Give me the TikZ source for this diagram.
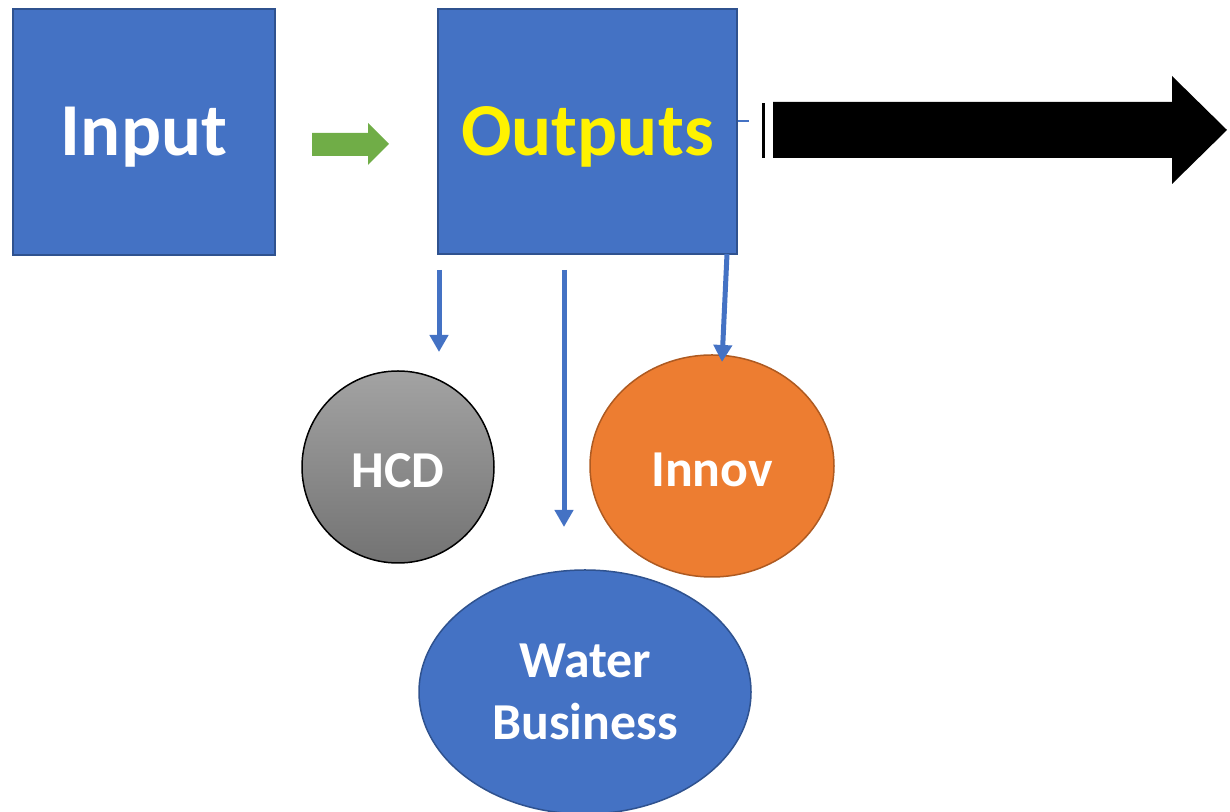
\documentclass[tikz,border=0pt]{standalone}
\usepackage{fontspec}
\setmainfont{Carlito}
\usetikzlibrary{arrows.meta}
\definecolor{boxblue}{HTML}{4472C4}
\definecolor{boxline}{HTML}{2F528F}
\definecolor{innovfill}{HTML}{ED7D31}
\definecolor{innovline}{HTML}{AE5A21}
\definecolor{arrowgreen}{HTML}{70AD47}
\definecolor{hcdtop}{HTML}{A3A3A3}
\definecolor{hcdbot}{HTML}{737373}
\tikzset{
  block/.style={draw=boxline,line width=1.5bp,fill=boxblue,inner sep=0pt,
    text height=52bp,text depth=4bp,
    font=\bfseries\fontsize{75}{90}\selectfont},
  blob/.style={ellipse,line width=1.5bp,inner sep=0pt,text=white,align=center,
    font=\bfseries\fontsize{52}{62}\selectfont},
  oneline/.style={text height=41bp,text depth=0pt},
  link/.style={draw=boxblue,line width=5bp,-{Triangle[width=18bp,length=17bp]}}
}
\usetikzlibrary{shapes.geometric}
\begin{document}
\begin{tikzpicture}[x=1bp,y=1bp]
\useasboundingbox(0,0) rectangle (1230,812);
% boxes
\node[block,text=white,minimum width=262bp,minimum height=246bp] (input) at (144,680) {Input};
\node[block,text=yellow,minimum width=299bp,minimum height=245bp] (outputs) at (587.5,680.5) {Outputs};
% circles
\node[blob,oneline,draw=black,top color=hcdtop,bottom color=hcdbot,minimum width=192bp,minimum height=192bp] (hcd) at (398,345) {HCD};
\node[blob,oneline,draw=innovline,fill=innovfill,minimum width=244bp,minimum height=222bp] (innov) at (712,346) {Innov};
\node[blob,draw=boxline,fill=boxblue,minimum width=332bp,minimum height=244bp] (water) at (585,120) {Water\\Business};
% green block arrow
\fill[arrowgreen] (312,656) -- (368,656) -- (368,647) -- (389,668) -- (368,689) -- (368,679) -- (312,679) -- cycle;
% black block arrow
\draw[boxblue,line width=1.5bp] (outputs.east |- 0,691) -- (749,691);
\draw[black,line width=3bp] (763,654) -- (763,709);
\fill[black] (773,654) -- (1172,654) -- (1172,628) -- (1227,682) -- (1172,736) -- (1172,710) -- (773,710) -- cycle;
% down arrows
\coordinate (a1) at (439,542);
\coordinate (a2) at (564,542);
\coordinate (a3) at (727,558);
\draw[link] (a1) -- (439,460);
\draw[link] (a2) -- (564,285);
\draw[link] (a3) -- (722,450);
\end{tikzpicture}
\end{document}
